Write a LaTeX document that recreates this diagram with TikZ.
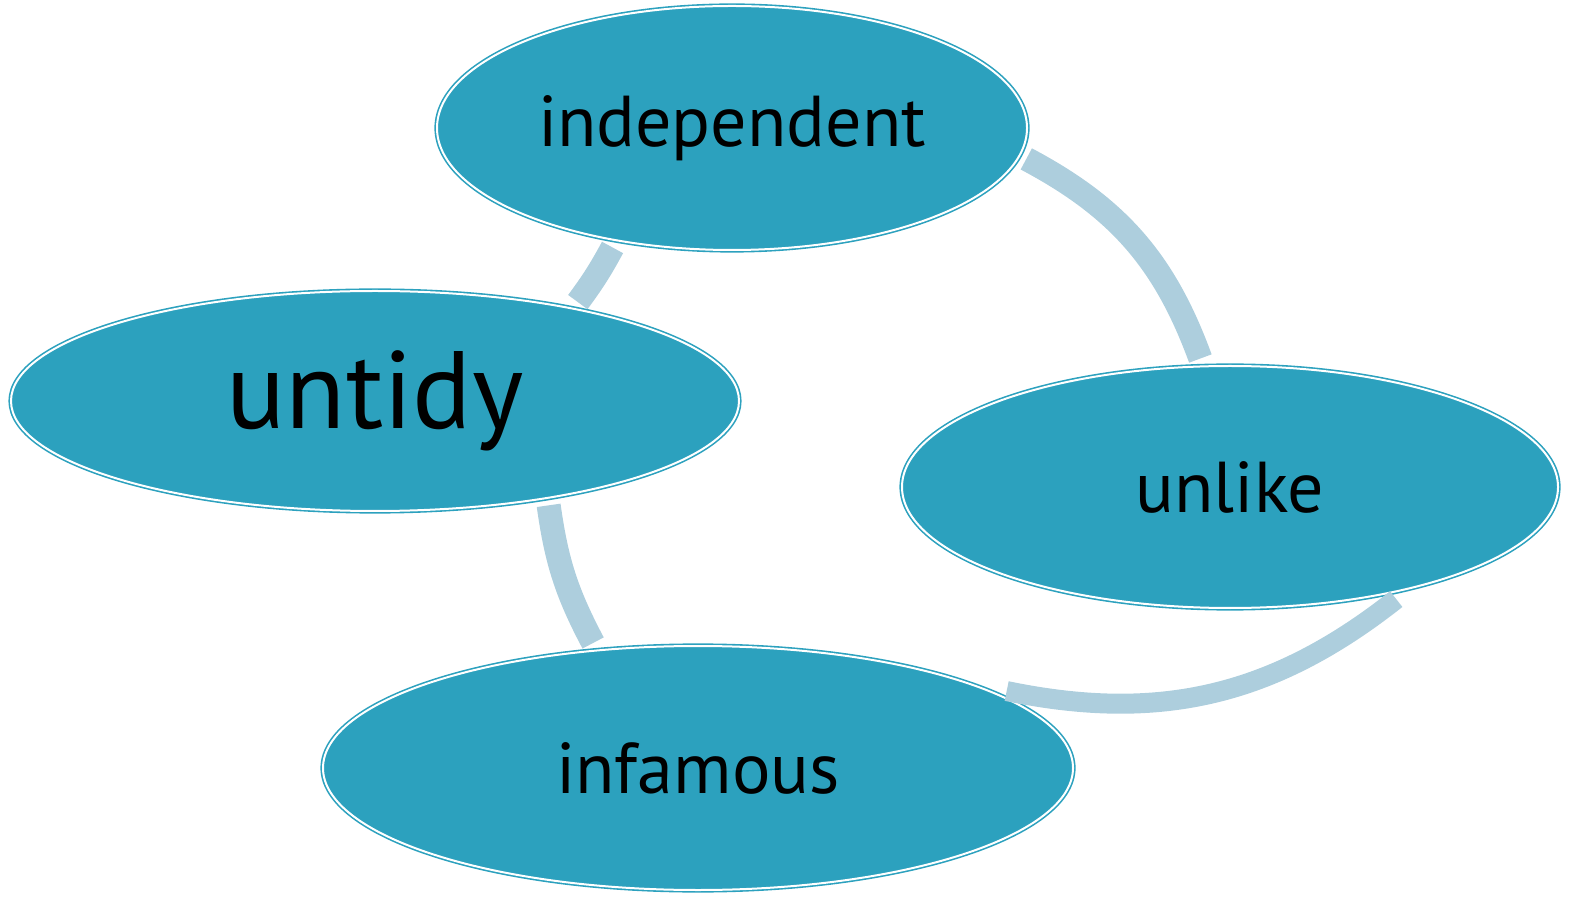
\documentclass[tikz,border=0pt]{standalone}
\usepackage{fontspec}
\setmainfont{PT Sans}
\usetikzlibrary{shapes.geometric}
\definecolor{bubblefill}{HTML}{2CA1BE}
\definecolor{linkblue}{HTML}{ADCEDD}

\begin{document}
\begin{tikzpicture}[x=0.5pt, y=0.5pt,
        bubble/.style={ellipse, fill=bubblefill, draw=bubblefill, double=white,
            double distance=1pt, line width=0.8pt, inner sep=0pt, outer sep=4pt,
            font=\fontsize{36}{42}\selectfont},
        link/.style={draw=linkblue, line width=12pt}]
            \useasboundingbox (0,0) rectangle (1593,905);
            \node[bubble, minimum width=295pt, minimum height=122pt] (independent) at (732,777) {independent};
            \node[bubble, minimum width=364pt, minimum height=110pt, font=\fontsize{55}{60}\selectfont] (untidy) at (375,504) {untidy};
            \node[bubble, minimum width=328pt, minimum height=121pt] (unlike) at (1230,418) {unlike};
            \node[bubble, minimum width=375pt, minimum height=122pt] (infamous) at (698,137) {infamous};
            \draw[link] (independent.-6) to[bend left=21] (unlike.103);
            \draw[link, line width=10pt] (unlike.-34) to[bend left=25] (infamous.14);
            \draw[link] (infamous.130) to[bend left=10] (untidy.-31);
            \draw[link] (untidy.26) to[bend right=4] (independent.-135);
        \end{tikzpicture}
\end{document}
